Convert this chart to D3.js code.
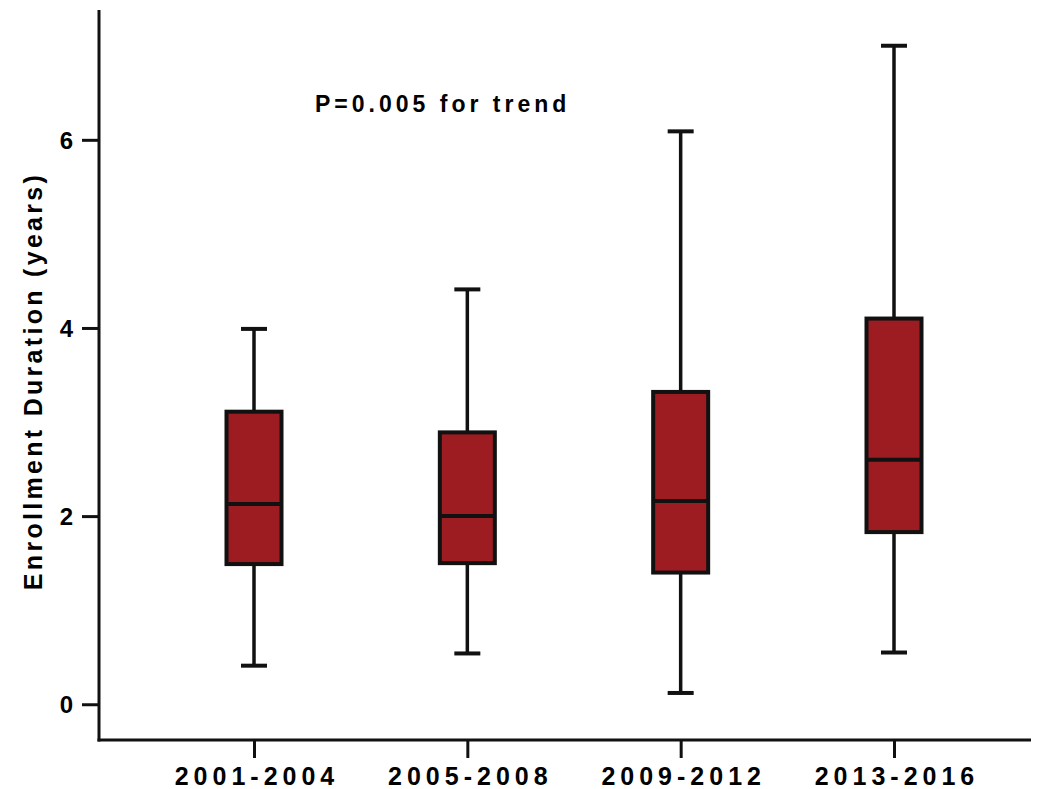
<!DOCTYPE html>
<html lang="en">
<head>
    <meta charset="UTF-8">
    <script src="https://d3js.org/d3.v7.min.js"></script>
    <style>
        body {margin: 0; background-color: #ffffff}
        svg {display: block}
        text {font-family: "Liberation Sans", Arial, sans-serif; font-weight: bold; fill: #000}
    </style>
</head>
<body>
<svg class="chart"></svg>
<script type="text/javascript">
    // values (years)
    let periods = ['2001-2004', '2005-2008', '2009-2012', '2013-2016'];
    let whisker_low = [0.41, 0.54, 0.12, 0.55];
    let quartile_1 = [1.49, 1.50, 1.40, 1.83];
    let medians = [2.13, 2.00, 2.16, 2.60];
    let quartile_3 = [3.11, 2.89, 3.32, 4.10];
    let whisker_high = [3.99, 4.41, 6.09, 7.00];
    let y_ticks = [0, 2, 4, 6];

    let width = 1044, height = 789;
    let box_width = 55, cap_width = 26;
    let box_color = '#9d1c22';

    let svg = d3.select('.chart')
        .attr('width', width)
        .attr('height', height);

    let x = d3.scalePoint()
        .domain(periods)
        .range([254, 894]);

    let y = d3.scaleLinear()
        .domain([-0.38, 7.38])
        .range([740, 10]);

    let boxes = periods.map(function (p, i) {
        return {name: p, lo: whisker_low[i], q1: quartile_1[i], med: medians[i], q3: quartile_3[i], hi: whisker_high[i]};
    });

    // y axis
    let y_axis = svg.append('g')
        .attr('transform', 'translate(99,0)')
        .call(d3.axisLeft(y).tickValues(y_ticks).tickSize(17).tickPadding(9).tickSizeOuter(0));
    y_axis.select('.domain').remove();
    y_axis.selectAll('line').attr('stroke', '#111').attr('stroke-width', 3);
    y_axis.selectAll('text').style('font-size', '24px').attr('dy', '0.36em');

    svg.append('line')
        .attr('x1', 99).attr('x2', 99)
        .attr('y1', y.range()[1]).attr('y2', y.range()[0] + 1.5)
        .attr('stroke', '#111').attr('stroke-width', 3);

    // x axis
    let x_axis = svg.append('g')
        .attr('transform', 'translate(0,740)')
        .call(d3.axisBottom(x).tickSize(18).tickPadding(9).tickSizeOuter(0));
    x_axis.select('.domain').remove();
    x_axis.selectAll('line').attr('stroke', '#111').attr('stroke-width', 3);
    x_axis.selectAll('text')
        .style('font-size', '25px')
        .style('letter-spacing', '5px')
        .attr('dx', '2.5px');

    svg.append('line')
        .attr('x1', 97.5).attr('x2', 1031)
        .attr('y1', 740).attr('y2', 740)
        .attr('stroke', '#111').attr('stroke-width', 3);

    // boxes
    let g = svg.append('g').selectAll('g')
        .data(boxes)
        .enter()
        .append('g');

    g.append('line')
        .attr('x1', d => x(d.name)).attr('x2', d => x(d.name))
        .attr('y1', d => y(d.hi)).attr('y2', d => y(d.lo))
        .attr('stroke', '#111').attr('stroke-width', 3.5);

    ['lo', 'hi'].forEach(function (k) {
        g.append('line')
            .attr('x1', d => x(d.name) - cap_width / 2).attr('x2', d => x(d.name) + cap_width / 2)
            .attr('y1', d => y(d[k])).attr('y2', d => y(d[k]))
            .attr('stroke', '#111').attr('stroke-width', 4);
    });

    g.append('rect')
        .attr('x', d => x(d.name) - box_width / 2)
        .attr('width', box_width)
        .attr('y', d => y(d.q3))
        .attr('height', d => y(d.q1) - y(d.q3))
        .attr('fill', box_color)
        .attr('stroke', '#111')
        .attr('stroke-width', 4);

    g.append('line')
        .attr('x1', d => x(d.name) - box_width / 2).attr('x2', d => x(d.name) + box_width / 2)
        .attr('y1', d => y(d.med)).attr('y2', d => y(d.med))
        .attr('stroke', '#111').attr('stroke-width', 4);

    // labels
    svg.append('text')
        .attr('transform', 'translate(42,381) rotate(-90)')
        .attr('text-anchor', 'middle')
        .style('font-size', '25px')
        .style('letter-spacing', '3.3px')
        .text('Enrollment Duration (years)');

    svg.append('text')
        .attr('x', 315).attr('y', 112)
        .style('font-size', '23px')
        .style('letter-spacing', '4px')
        .text('P=0.005 for trend');
</script>
</body>
</html>
